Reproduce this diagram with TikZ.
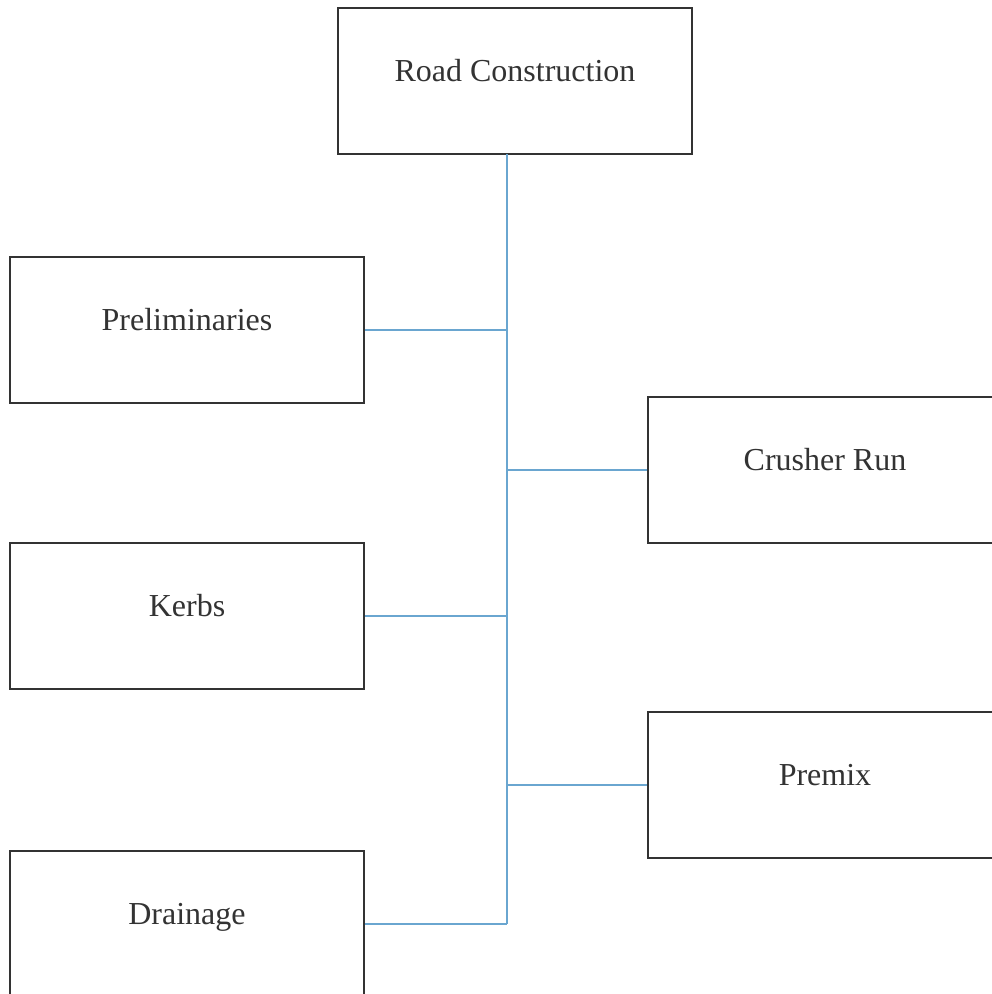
\documentclass[tikz,border=0pt]{standalone}
\usepackage{fontspec}
\setmainfont{Liberation Serif}
\begin{document}
\begin{tikzpicture}[x=1pt,y=-1pt,
  box/.style={draw=boxgray,line width=2.4pt,rectangle,inner sep=0pt,
    minimum width=354pt,text height=73pt,text depth=73pt,
    text=textgray,font=\fontsize{32}{38}\selectfont},
  link/.style={draw=linkblue,line width=1.5pt}]
\definecolor{boxgray}{HTML}{333333}
\definecolor{textgray}{HTML}{333333}
\definecolor{linkblue}{HTML}{6AA6D0}
\useasboundingbox (0,0) rectangle (992,994);
\clip (0,0) rectangle (992,994);
\fill[white] (0,0) rectangle (992,994);
\node[box] (road) at (515,81) {Road Construction};
\node[box] (prelim) at (187,330) {Preliminaries};
\node[box] (crusher) at (825,470) {Crusher Run};
\node[box] (kerbs) at (187,616) {Kerbs};
\node[box] (premix) at (825,785) {Premix};
\node[box] (drain) at (187,924) {Drainage};
\coordinate (top) at (507,154);
\coordinate (bot) at (drain.east -| top);
\draw[link] (top) -- (bot);
\draw[link] (prelim.east) -- (prelim.east -| top);
\draw[link] (crusher.west) -- (crusher.west -| top);
\draw[link] (kerbs.east) -- (kerbs.east -| top);
\draw[link] (premix.west) -- (premix.west -| top);
\draw[link] (drain.east) -- (bot);
\end{tikzpicture}
\end{document}
